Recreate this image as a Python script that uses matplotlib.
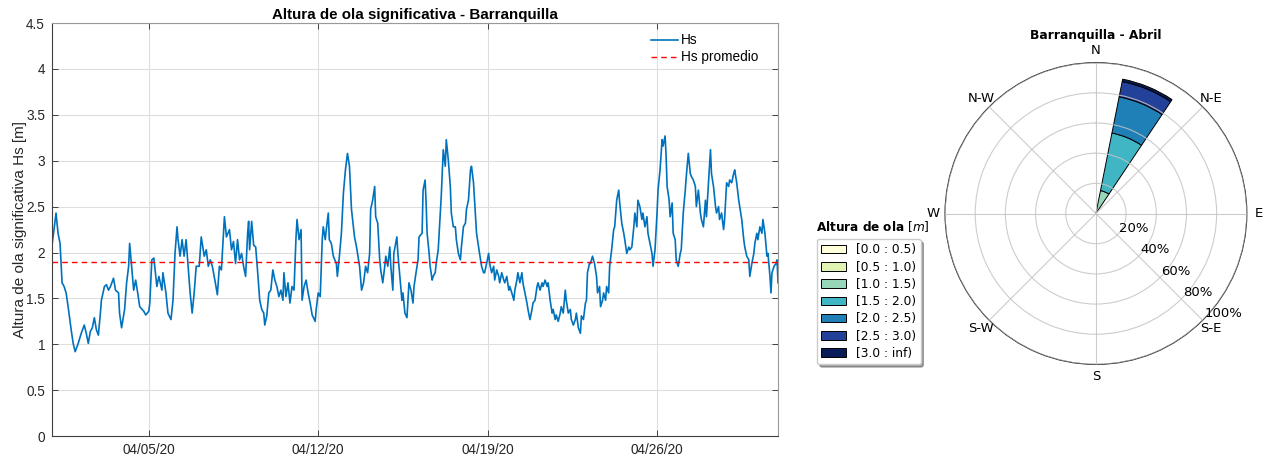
import numpy as np
import matplotlib
matplotlib.use("Agg")
import matplotlib.pyplot as plt
import matplotlib.dates as mdates
from matplotlib import transforms
from matplotlib.ticker import FuncFormatter

# ---- serie de Hs (abril 2020), horas contadas desde 2020-04-01 00:00 ----
horas = [0, 2, 4, 6, 8, 10, 12, 14, 16, 19, 21, 23, 26, 29, 32, 34, 36, 38, 40, 42,
         44, 46, 48, 49, 52, 54, 56, 58, 61, 63, 66, 67, 69, 72, 74, 76, 77, 79, 81, 83,
         85, 87, 91, 93, 96, 97, 99, 101, 104, 106, 109, 110, 113, 115, 118, 120, 122, 124, 125, 127,
         129, 131, 133, 135, 137, 139, 141, 143, 146, 148, 151, 153, 155, 157, 159, 162, 164, 166, 168, 171,
         173, 176, 178, 180, 182, 184, 186, 188, 190, 192, 194, 195, 196, 198, 200, 202, 204, 206, 208, 210,
         211, 213, 215, 217, 219, 221, 223, 225, 227, 229, 230, 232, 234, 236, 238, 240, 242, 243, 245, 247,
         248, 250, 252, 254, 256, 258, 261, 262, 264, 266, 268, 269, 271, 272, 274, 275, 277, 279, 282, 283,
         285, 287, 289, 291, 293, 295, 297, 300, 302, 305, 307, 309, 311, 313, 315, 316, 318, 320, 321, 323,
         325, 326, 328, 330, 331, 333, 335, 336, 338, 339, 342, 343, 345, 347, 348, 350, 352, 354, 356, 358,
         359, 361, 363, 364,
         367, 368, 370, 371, 372, 374, 375, 377, 378, 380, 381, 383, 385, 386, 388, 390, 391, 393, 395, 396,
         398, 400, 401, 403, 405, 406, 408, 410, 411, 413, 415, 416, 418, 419, 421, 423, 424, 426, 428, 429,
         431, 433, 434, 436, 438, 439, 441, 443, 444, 446, 448, 449, 451, 453, 454, 456, 458, 459, 461, 462,
         464, 466, 467, 469, 471, 472, 474, 476, 477, 479, 481, 482, 484, 486, 487, 489, 491, 492, 494, 496,
         497, 499, 500, 502, 504, 505, 507, 509, 510, 512, 514, 515, 517, 519, 520, 522, 524, 525, 527, 529,
         530, 531, 533, 534, 536, 538, 540, 541, 543, 544, 546, 547, 549, 550, 552, 553, 555, 557, 558, 560,
         562, 563, 565, 567, 568, 570, 572, 573, 575, 577, 578, 580, 581, 583, 585, 586, 588, 590, 591, 593,
         595, 596, 598, 600, 601, 603, 605, 606, 608, 609, 610, 612, 613, 615, 616, 618, 619, 621, 623, 624,
         626, 628, 629, 631, 633, 634, 636, 638, 639, 641, 643, 644, 646, 648, 649, 651, 653, 654, 656, 658,
         659, 661, 662, 664, 666, 667, 669, 671, 672, 674, 676, 677, 679, 681, 682, 684, 686, 687, 689, 691,
         692, 694, 696, 697, 699, 700, 702, 704, 705, 707, 709, 710, 712, 713, 714, 716, 718, 719, 720]

hs = [2.08, 2.25, 2.43, 2.21, 2.10, 1.67, 1.63, 1.56, 1.41, 1.16, 1.01, 0.92, 1.01, 1.12, 1.21, 1.12, 1.01, 1.14, 1.18, 1.29,
      1.16, 1.10, 1.34, 1.48, 1.63, 1.65, 1.59, 1.63, 1.72, 1.59, 1.56, 1.34, 1.18, 1.38, 1.67, 1.85, 2.10, 1.85, 1.59, 1.70,
      1.56, 1.41, 1.36, 1.32, 1.36, 1.45, 1.92, 1.94, 1.63, 1.74, 1.59, 1.78, 1.56, 1.34, 1.27, 1.48, 1.99, 2.28, 2.14, 1.96,
      2.14, 1.96, 2.14, 1.85, 1.56, 1.34, 1.56, 1.85, 1.85, 2.17, 1.96, 2.03, 1.85, 1.92, 1.85, 1.67, 1.54, 1.85, 1.81, 2.39,
      2.17, 2.25, 2.03, 2.12, 1.88, 2.14, 1.92, 1.99, 1.85, 1.74, 2.21, 2.34, 2.03, 2.34, 2.08, 2.06, 1.78, 1.48, 1.38, 1.34,
      1.21, 1.31, 1.56, 1.59, 1.81, 1.70, 1.63, 1.52, 1.59, 1.48, 1.78, 1.52, 1.67, 1.45, 1.63, 1.59, 2.17, 2.36, 2.14, 2.25,
      1.48, 1.63, 1.70, 1.56, 1.45, 1.32, 1.25, 1.38, 1.56, 1.52, 2.14, 2.28, 2.14, 2.25, 2.43, 2.14, 2.10, 1.96, 1.88, 1.74,
      1.96, 2.21, 2.65, 2.90, 3.08, 2.94, 2.47, 2.17, 2.06, 1.85, 1.59, 1.67, 1.85, 1.78, 1.99, 2.47, 2.57, 2.72, 2.39, 2.32,
      1.92, 1.81, 1.67, 1.85, 1.96, 1.85, 2.06, 1.85, 1.59, 1.99, 2.17, 1.99, 1.74, 1.48, 1.56, 1.34, 1.29, 1.67, 1.59, 1.45,
      1.63, 1.78, 1.92, 2.17,
      2.21, 2.68, 2.79, 2.54, 2.21, 1.99, 1.85, 1.70, 1.74, 1.78, 1.88, 2.03, 2.43, 2.61, 3.12, 2.94, 3.23, 3.01, 2.72, 2.43,
      2.28, 2.28, 2.14, 1.99, 1.92, 2.06, 2.28, 2.32, 2.47, 2.57, 2.90, 2.94, 2.76, 2.57, 2.21, 2.06, 1.99, 1.85, 1.78, 1.78,
      1.88, 1.99, 1.88, 1.78, 1.85, 1.70, 1.81, 1.74, 1.67, 1.78, 1.70, 1.67, 1.74, 1.59, 1.63, 1.56, 1.48, 1.59, 1.70, 1.78,
      1.67, 1.78, 1.67, 1.56, 1.45, 1.38, 1.27, 1.38, 1.45, 1.48, 1.63, 1.67, 1.59, 1.67, 1.63, 1.70, 1.63, 1.67, 1.48, 1.34,
      1.38, 1.27, 1.32, 1.25, 1.34, 1.41, 1.34, 1.59, 1.48, 1.34, 1.38, 1.27, 1.21, 1.27, 1.34, 1.18, 1.12, 1.31, 1.27, 1.45,
      1.48, 1.78, 1.88, 1.88, 1.96, 1.88, 1.74, 1.56, 1.63, 1.41, 1.48, 1.56, 1.48, 1.63, 1.56, 1.85, 2.03, 2.25, 2.28, 2.57,
      2.68, 2.54, 2.32, 2.21, 2.14, 1.99, 2.06, 2.03, 2.06, 2.28, 2.43, 2.28, 2.57, 2.50, 2.36, 2.43, 2.28, 2.39, 2.21, 2.10,
      1.99, 1.85, 2.03, 2.43, 2.68, 2.90, 3.23, 3.16, 3.27, 3.05, 2.72, 2.57, 2.39, 2.54, 2.21, 2.14, 1.92, 1.85, 1.99, 2.03,
      2.43, 2.68, 2.83, 3.08, 2.86, 2.83, 2.79, 2.72, 2.50, 2.68, 2.43, 2.36, 2.28, 2.57, 2.39, 2.76, 3.12, 2.86, 2.72, 2.50,
      2.43, 2.50, 2.36, 2.43, 2.25, 2.36, 2.76, 2.72, 2.79, 2.76, 2.86, 2.90, 2.76, 2.57, 2.50, 2.36, 2.14, 2.06, 1.96, 1.92,
      1.74, 1.88, 1.99, 2.10, 2.21, 2.14, 2.28, 2.21, 2.36, 2.21, 1.96, 1.99, 1.74, 1.56, 1.78, 1.85, 1.88, 1.92, 1.67]

hs_promedio = 1.90
inicio = np.datetime64("2020-04-01T00:00")
fin = np.datetime64("2020-05-01T00:00")

# ---- rosa de oleaje: frecuencia [%] por rango de Hs en el sector NNE ----
sector_dir = 22.5
sector_ancho = 22.5
rangos = ["[0.0 : 0.5)", "[0.5 : 1.0)", "[1.0 : 1.5)", "[1.5 : 2.0)",
          "[2.0 : 2.5)", "[2.5 : 3.0)", "[3.0 : inf)"]
frecuencia = [0.0, 0.6, 14.9, 38.9, 24.5, 10.3, 1.6]
rumbos = ["N", "N-E", "E", "S-E", "S", "S-W", "W", "N-W"]
anillos = [20, 40, 60, 80, 100]

plt.rcParams["font.family"] = ["Liberation Sans", "DejaVu Sans"]
gris = "#262626"

fig = plt.figure(figsize=(12.68, 4.61), dpi=100)

# ---------------- serie temporal ----------------
ax = fig.add_axes([0.041, 0.054, 0.5726, 0.896])
tiempo = inicio + np.array(horas, dtype="timedelta64[h]")
ax.plot(tiempo, hs, color="#0072BD", lw=1.2, label="Hs")
ax.axhline(hs_promedio, color="#ff0000", ls=(0, (4, 3)), lw=1.0, label="Hs promedio")

ax.set_xlim(inicio, fin)
ax.set_ylim(0, 4.5)
ax.set_yticks(np.arange(0, 4.51, 0.5))
ax.yaxis.set_major_formatter(FuncFormatter(lambda v, _: f"{v:g}"))
ax.xaxis.set_major_locator(mdates.DayLocator(bymonthday=[5, 12, 19, 26]))
ax.xaxis.set_major_formatter(mdates.DateFormatter("%m/%d/%y"))
ax.tick_params(direction="in", length=4, width=0.6, top=True, right=True,
               labelsize=9.8, colors=gris, pad=5)
ax.grid(True, color="#dedede", lw=0.8)
ax.set_axisbelow(True)
for lado in ["left", "bottom"]:
    ax.spines[lado].set_color("#404040")
    ax.spines[lado].set_linewidth(0.8)
for lado in ["top", "right"]:
    ax.spines[lado].set_color("#999999")
    ax.spines[lado].set_linewidth(0.8)

ax.set_title("Altura de ola significativa - Barranquilla", fontsize=10.9,
             fontweight="bold", pad=3, color="black")
ax.set_ylabel("Altura de ola significativa Hs [m]", fontsize=11, color=gris, labelpad=-0.5)
ax.legend(loc="upper left", bbox_to_anchor=(0.825, 0.975), frameon=False,
          fontsize=9.8, handlelength=2.0, handletextpad=0.2, labelspacing=0.22,
          borderpad=0, borderaxespad=0)

# ---------------- rosa de oleaje ----------------
dv = "DejaVu Sans"
ax2 = fig.add_axes([0.7453, 0.2093, 0.238, 0.655], projection="polar")
ax2.set_theta_zero_location("N")
ax2.set_theta_direction(-1)

colores = plt.cm.YlGnBu(np.linspace(0, 1, len(rangos)))
base = 0.0
for f, c, etiqueta in zip(frecuencia, colores, rangos):
    ax2.bar(np.deg2rad(sector_dir), f, width=np.deg2rad(sector_ancho), bottom=base,
            color=c, edgecolor="black", linewidth=0.7, label=etiqueta, zorder=1)
    base += f

ax2.set_ylim(0, anillos[-1])
ax2.set_yticks(anillos)
ax2.set_yticklabels([])
ax2.set_xticks(np.deg2rad(np.arange(0, 360, 45)))
ax2.set_xticklabels(rumbos, fontsize=9.5, fontfamily=dv)
ax2.tick_params(axis="x", pad=-2)
ax2.grid(True, color="#c4c4c4", lw=0.8, alpha=0.85)
ax2.set_axisbelow(False)
ax2.spines["polar"].set_color("#222222")
ax2.spines["polar"].set_linewidth(0.8)

desplazado = transforms.offset_copy(ax2.transData, fig=fig, x=1.5, y=0, units="dots")
for r in anillos:
    ax2.text(np.deg2rad(135), r, f"{r}%", ha="left", va="bottom", fontsize=9.5,
             fontfamily=dv, transform=desplazado)

ax2.set_title("Barranquilla - Abril", fontsize=8.8, fontweight="bold",
              fontfamily=dv, y=1.078, pad=0)

leg = ax2.legend(loc="upper left", bbox_to_anchor=(817 / 1268, 1 - 239 / 461),
                 bbox_transform=fig.transFigure, borderaxespad=0,
                 prop={"family": dv, "size": 8.8}, handlelength=2.05,
                 handleheight=0.7, handletextpad=0.8, labelspacing=0.35,
                 borderpad=0.35, fancybox=True, shadow=True)
fig.text(816 / 1268, 1 - 227 / 461, r"$\bf{Altura\ de\ ola}$ $[m]$",
         ha="left", va="center", fontsize=8.7, fontfamily=dv)

fig.savefig("out.png", dpi=100)
